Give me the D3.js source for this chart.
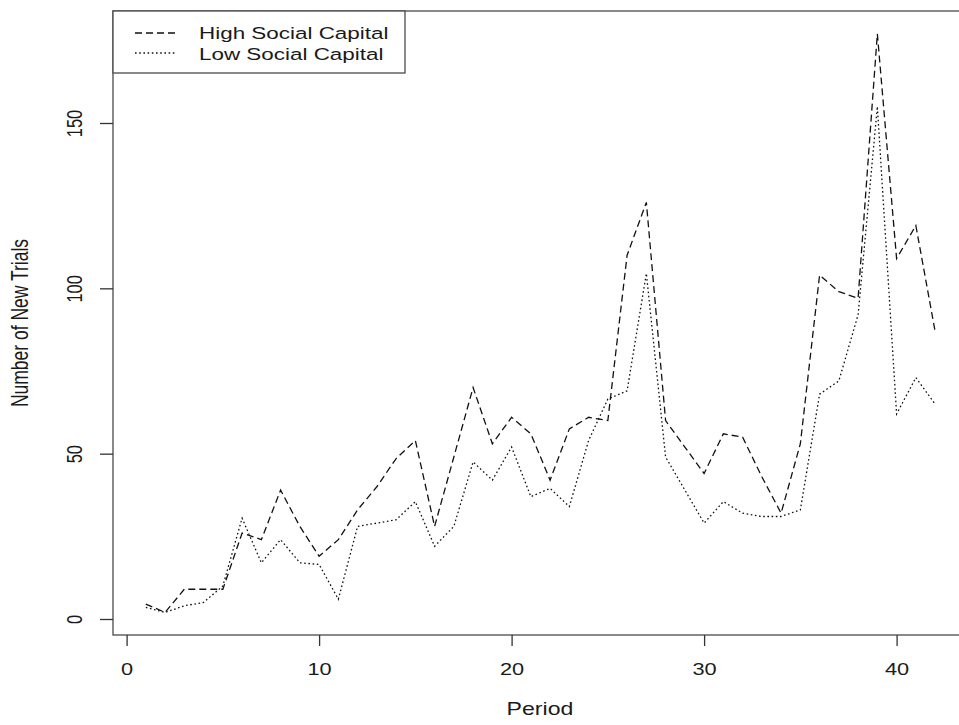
<!DOCTYPE html>
<html>
<head>
<meta charset="utf-8">
<script src="https://cdn.jsdelivr.net/npm/d3@7"></script>
<style>
  body { margin: 0; background: #fff; }
  text { font-family: "Liberation Sans", Arial, sans-serif; fill: #1a1a1a; }
</style>
</head>
<body>
<svg width="959" height="725"></svg>
<script>
// data
const periods = d3.range(1, 43);
const highSocial = [4.5, 2, 9, 9, 9, 26, 24, 39, 28, 19, 24, 33, 40, 48.5, 54, 28, 49, 70, 53, 61,
  56, 42, 57.5, 61, 60, 110, 126, 60, 52, 44, 56, 55, 43, 32, 53, 104, 99, 97, 177, 109, 119, 87];
const lowSocial = [3.5, 2, 4, 5, 10, 30.5, 17, 24, 17, 16.5, 6, 28, 29, 30, 35.5, 22, 28, 47.5, 42, 52,
  37, 39.5, 34, 54, 66.5, 69, 104.5, 49, 39, 29, 35.5, 32, 31, 31, 33, 68, 72, 92, 155, 62, 73, 65];
const xTicks = [0, 10, 20, 30, 40];
const yTicks = [0, 50, 100, 150];
const seriesNames = ["High Social Capital", "Low Social Capital"];

window.addEventListener('load', () => {
    const svg = d3.select("svg");
    const stretch = 1.32; // the picture's text is a little wide
    const box = { left: 113, top: 11, bottom: 635, right: 990 };

    let x = d3.scaleLinear().domain([0, 40]).range([126.6, 896.6]),
        y = d3.scaleLinear().domain([0, 150]).range([619, 123]);

    // plot frame
    svg.append("rect")
        .attr("x", box.left).attr("y", box.top)
        .attr("width", box.right - box.left).attr("height", box.bottom - box.top)
        .attr("fill", "none").attr("stroke", "#4a4a4a").attr("stroke-width", 1.3);

    // x axis
    const gx = svg.append("g").attr("transform", "translate(0," + box.bottom + ")")
        .call(d3.axisBottom(x).tickValues(xTicks).tickSize(11).tickPadding(0));
    gx.select(".domain").remove();
    gx.selectAll(".tick line").attr("stroke", "#333").attr("stroke-width", 1.3);
    gx.selectAll(".tick text")
        .attr("y", 40).attr("dy", 0)
        .attr("transform", "scale(" + stretch + ",1)")
        .style("font-size", "16.5px").style("font-family", "Liberation Sans, Arial, sans-serif")
        .attr("fill", "#1a1a1a");

    // y axis
    const gy = svg.append("g").attr("transform", "translate(" + box.left + ",0)")
        .call(d3.axisLeft(y).tickValues(yTicks).tickSize(13).tickPadding(0));
    gy.select(".domain").remove();
    gy.selectAll(".tick line").attr("stroke", "#333").attr("stroke-width", 1.3);
    gy.selectAll(".tick text")
        .attr("x", 0).attr("dy", 0).attr("text-anchor", "middle")
        .attr("transform", "translate(-31,0) scale(" + stretch + ",1) rotate(-90)")
        .style("font-size", "16.5px").style("font-family", "Liberation Sans, Arial, sans-serif")
        .attr("fill", "#1a1a1a");

    // axis titles
    svg.append("text").attr("text-anchor", "middle")
        .attr("transform", "translate(540,715) scale(" + stretch + ",1)")
        .style("font-size", "17.5px")
        .text("Period");
    svg.append("text").attr("text-anchor", "middle")
        .attr("transform", "translate(28,323) scale(" + stretch + ",1) rotate(-90)")
        .style("font-size", "17.5px")
        .text("Number of New Trials");

    // lines
    const line = d3.line().x((d, i) => x(periods[i])).y(d => y(d));
    const dashes = ["7,4", "1.6,2.6"];
    [highSocial, lowSocial].forEach((vals, k) => {
        svg.append("path").datum(vals)
            .attr("d", line)
            .attr("fill", "none")
            .attr("stroke", "#111")
            .attr("stroke-width", 1.3)
            .attr("stroke-dasharray", dashes[k]);
    });

    // legend
    const legend = svg.append("g");
    legend.append("rect")
        .attr("x", box.left).attr("y", box.top).attr("width", 292).attr("height", 62)
        .attr("fill", "#fff").attr("stroke", "#4a4a4a").attr("stroke-width", 1.3);
    seriesNames.forEach((name, k) => {
        legend.append("line")
            .attr("x1", 135).attr("x2", 175)
            .attr("y1", 33 + k * 20).attr("y2", 33 + k * 20)
            .attr("stroke", "#111").attr("stroke-width", 1.3)
            .attr("stroke-dasharray", dashes[k]);
        legend.append("text")
            .attr("transform", "translate(199," + (39 + k * 21) + ") scale(" + stretch + ",1)")
            .style("font-size", "17px")
            .text(name);
    });
})
</script>
</body>
</html>
